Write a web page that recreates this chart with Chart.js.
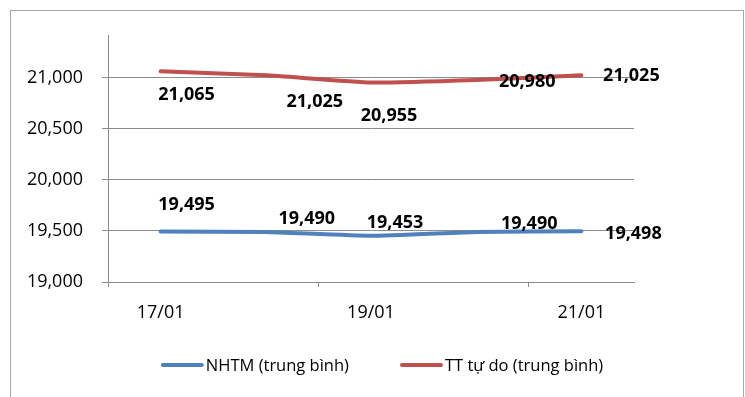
<!DOCTYPE html>
<html>
<head>
<meta charset="utf-8">
<script src="https://cdn.jsdelivr.net/npm/chart.js@4.4.1/dist/chart.umd.min.js"></script>
<style>
  html, body { margin: 0; padding: 0; background: #fff; }
  #frame { position: absolute; left: 10px; top: 10px; width: 732px; height: 400px; border: 1px solid #a6a6a6; }
  #wrap { position: absolute; left: 0; top: 0; width: 745px; height: 397px; }
</style>
</head>
<body>
<div id="frame"></div>
<div id="wrap"><canvas id="myChart" width="745" height="397"></canvas></div>
<script>
    // days on the x axis
    const days = ['17/01', '18/01', '19/01', '20/01', '21/01']
    // average rates
    const nhtm = [19495, 19490, 19453, 19490, 19498]
    const ttTuDo = [21065, 21025, 20955, 20980, 21025]
    const yTicks = [19000, 19500, 20000, 20500, 21000]

    // where each value label sits, relative to its point
    const nhtmLabelShift = [[26, -27], [41, -13], [24, -13], [53, -8], [52, 3]]
    const ttLabelShift = [[26, 24], [49, 27], [18, 33], [51, 2], [50, 1]]

    Chart.defaults.font.family = "'Open Sans', sans-serif"
    Chart.defaults.color = '#000'

    function fmt(v) {
      return Number(v).toLocaleString('en-US')
    }

    // draws the numbers next to each point
    const valueLabels = {
      id: 'valueLabels',
      afterDatasetsDraw(chart) {
        const ctx = chart.ctx
        ctx.save()
        ctx.font = "bold 18px 'Open Sans', sans-serif"
        ctx.fillStyle = '#000'
        ctx.textAlign = 'center'
        ctx.textBaseline = 'middle'
        chart.data.datasets.forEach((ds, di) => {
          const meta = chart.getDatasetMeta(di)
          meta.data.forEach((pt, i) => {
            const s = ds.labelShift[i]
            ctx.fillText(fmt(ds.data[i]), pt.x + s[0], pt.y + s[1])
          })
        })
        ctx.restore()
      }
    }

    // line-sample legend under the axis, centred on the frame
    const lineLegend = {
      id: 'lineLegend',
      afterDraw(chart) {
        const ctx = chart.ctx
        const sample = 43, gap = 2, between = 51
        const cy = 365
        ctx.save()
        ctx.font = "16.5px 'Open Sans', sans-serif"
        ctx.textBaseline = 'middle'
        ctx.textAlign = 'left'
        const items = chart.data.datasets.map(ds => ({ ds, w: ctx.measureText(ds.label).width }))
        let total = items.reduce((a, it) => a + sample + gap + it.w, 0) + between * (items.length - 1)
        let x = 382 - total / 2
        items.forEach(it => {
          ctx.strokeStyle = it.ds.borderColor
          ctx.lineWidth = 4
          ctx.lineCap = 'round'
          ctx.beginPath()
          ctx.moveTo(x + 2, cy)
          ctx.lineTo(x + sample - 2, cy)
          ctx.stroke()
          ctx.fillStyle = '#000'
          ctx.fillText(it.ds.label, x + sample + gap, cy + 1)
          x += sample + gap + it.w + between
        })
        ctx.restore()
      }
    }

    var ctx = document.getElementById('myChart').getContext('2d');
    var chart = new Chart(ctx, {
      type: 'line',
      data: {
        labels: days,
        datasets: [{
          label: 'NHTM (trung bình)',
          data: nhtm,
          borderColor: '#4F81BD',
          backgroundColor: '#4F81BD',
          borderWidth: 4,
          borderCapStyle: 'round',
          pointRadius: 0,
          tension: 0.15,
          labelShift: nhtmLabelShift
        }, {
          label: 'TT tự do (trung bình)',
          data: ttTuDo,
          borderColor: '#C0504D',
          backgroundColor: '#C0504D',
          borderWidth: 4,
          borderCapStyle: 'round',
          pointRadius: 0,
          tension: 0.15,
          labelShift: ttLabelShift
        }]
      },
      options: {
        responsive: false,
        animation: false,
        layout: { padding: { left: 20, right: 0, top: 35, bottom: 65 } },
        plugins: {
          tooltip: { enabled: false },
          legend: { display: false }
        },
        scales: {
          x: {
            offset: true,
            grid: {
              offset: true,
              drawOnChartArea: false,
              tickLength: 5,
              color: (c) => c.index % 2 === 0 ? '#8c8c8c' : 'rgba(0,0,0,0)'
            },
            border: { color: '#8c8c8c' },
            ticks: {
              autoSkip: false,
              maxRotation: 0,
              padding: 15,
              font: { size: 18 },
              callback: (v, i) => i % 2 === 0 ? days[i] : ''
            },
            afterFit: (s) => { s.height = 50 }
          },
          y: {
            min: 19000,
            max: 21420,
            afterBuildTicks: (s) => { s.ticks = yTicks.map(v => ({ value: v })) },
            grid: { color: '#8c8c8c', tickLength: 6 },
            border: { color: '#8c8c8c' },
            ticks: {
              padding: 19,
              font: { size: 18 },
              callback: (v) => fmt(v)
            },
            afterFit: (s) => { s.width = 88 }
          },
          y2: {
            position: 'right',
            grid: { display: false },
            border: { display: false },
            ticks: { display: false },
            afterFit: (s) => { s.width = 111 }
          }
        }
      },
      plugins: [valueLabels, lineLegend]
    });
</script>
</body>
</html>
